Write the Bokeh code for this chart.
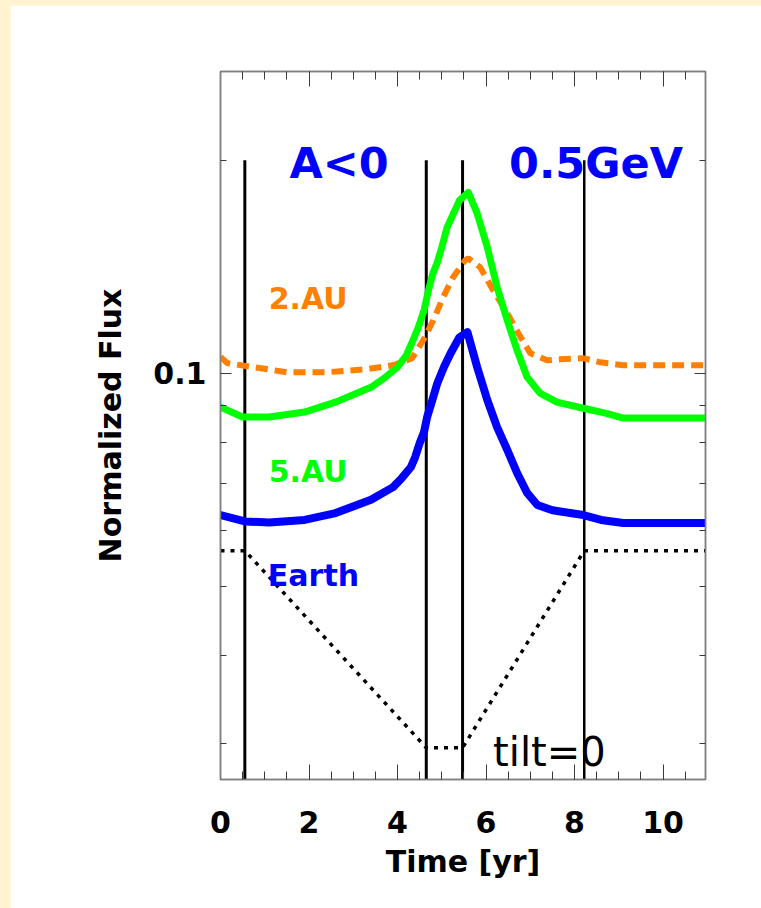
from bokeh.plotting import figure
from bokeh.models import (LogAxis, LinearAxis, FixedTicker, SingleIntervalTicker,
                          PrintfTickFormatter, Label)
from bokeh.layouts import column
from bokeh.embed import file_html
from bokeh.resources import INLINE

# ---- data -------------------------------------------------------------
# 2 AU normalized flux (dashed orange)
au2_t = [0, 0.16, 0.74, 1.5, 2.4, 3.3, 3.9, 4.33, 4.58, 4.81, 5.03, 5.26, 5.53,
         5.6, 5.87, 6.16, 6.48, 6.73, 7.0, 7.38, 7.67, 8.19, 8.58, 9.1, 10.96]
au2_f = [0.1055, 0.1034, 0.1021, 0.1004, 0.1004, 0.1014, 0.1027, 0.1051, 0.1114,
         0.1189, 0.1281, 0.1369, 0.1445, 0.1454, 0.1412, 0.1311, 0.1216, 0.1140,
         0.1068, 0.1044, 0.1047, 0.1051, 0.1037, 0.1027, 0.1027]

# 5 AU normalized flux (green)
au5_t = [0, 0.5, 1.1, 1.9, 2.6, 3.4, 3.7, 4.0, 4.2, 4.35, 4.47, 4.6, 4.7, 4.8,
         4.9, 5.0, 5.12, 5.4, 5.6, 5.8, 6.03, 6.25, 6.48, 6.7, 6.93, 7.22, 7.6,
         8.2, 8.7, 9.1, 10.96]
au5_f = [0.0896, 0.0868, 0.0868, 0.0882, 0.0911, 0.0956, 0.0985, 0.1021, 0.1061,
         0.1114, 0.1162, 0.1228, 0.1311, 0.1385, 0.1435, 0.1507, 0.1608, 0.1756,
         0.1802, 0.1683, 0.1507, 0.1324, 0.1189, 0.1079, 0.0988, 0.0938, 0.0911,
         0.0893, 0.0879, 0.0865, 0.0865]

# Earth normalized flux (blue)
earth_t = [0, 0.55, 1.1, 1.9, 2.6, 3.4, 3.9, 4.1, 4.3, 4.4, 4.5, 4.6, 4.67, 4.8,
           4.9, 5.05, 5.2, 5.3, 5.4, 5.58, 5.8, 6.03, 6.25, 6.48, 6.7, 6.93, 7.16,
           7.5, 8.2, 8.6, 9.1, 10.96]
earth_f = [0.0631, 0.0618, 0.0616, 0.0621, 0.0635, 0.0663, 0.0691, 0.0712, 0.0737,
           0.0762, 0.0797, 0.0827, 0.0868, 0.0923, 0.0969, 0.1021, 0.1068, 0.1096,
           0.1125, 0.1144, 0.1021, 0.0917, 0.0840, 0.0780, 0.0724, 0.0678, 0.0652,
           0.0641, 0.0631, 0.0621, 0.0615, 0.0615]

# tilt-angle profile (dotted black, arbitrary scale)
tilt_t = [0, 0.55, 4.65, 5.47, 8.22, 10.96]
tilt_f = [0.0562, 0.0562, 0.0296, 0.0296, 0.0562, 0.0562]

# epoch markers
marker_t = [0.55, 4.65, 5.47, 8.22]
marker_top = 0.2

# axes
x_lo, x_hi = 0, 10.96
y_lo, y_hi = 0.0267, 0.267
y_major = [0.1]
y_minor = [0.03, 0.04, 0.05, 0.06, 0.07, 0.08, 0.09, 0.2]

# ---- styling ------------------------------------------------------------
FONT = "DejaVu Sans"
GREY = "#7f7f7f"
TICK = "#3a3a3a"
BLUE = "#0000ff"
GREEN = "#00ff00"
ORANGE = "#ff7f00"

p = figure(width=751, height=903, x_range=(x_lo, x_hi), y_range=(y_lo, y_hi),
           y_axis_type="log", output_backend="svg", toolbar_location=None,
           min_border_left=210, min_border_right=56, min_border_top=66,
           min_border_bottom=129, background_fill_color="white",
           border_fill_color="white")
p.grid.visible = False
p.outline_line_color = GREY
p.outline_line_width = 1.5

xt = SingleIntervalTicker(interval=2, num_minor_ticks=4)
yt = FixedTicker(ticks=y_major, minor_ticks=y_minor)


def style_axis(ax, ticker, major_len, minor_len, labels=True):
    ax.ticker = ticker
    ax.axis_line_color = GREY
    ax.axis_line_width = 1.5
    ax.major_tick_in = major_len
    ax.major_tick_out = 0
    ax.minor_tick_in = minor_len
    ax.minor_tick_out = 0
    ax.major_tick_line_color = TICK
    ax.minor_tick_line_color = TICK
    ax.major_tick_line_width = 1
    ax.minor_tick_line_width = 1
    if not labels:
        # tick marks only, no numbers on the mirrored sides
        ax.major_label_text_color = None
        ax.major_label_standoff = 0


xa = p.xaxis[0]
style_axis(xa, xt, 15, 8)
xa.axis_label = "Time [yr]"
xa.major_label_text_font = FONT
xa.major_label_text_font_style = "bold"
xa.major_label_text_font_size = "30px"
xa.major_label_text_color = "black"
xa.major_label_standoff = 31
xa.axis_label_text_font = FONT
xa.axis_label_text_font_style = "bold"
xa.axis_label_text_font_size = "30px"
xa.axis_label_text_color = "black"
xa.axis_label_standoff = 8

ya = p.yaxis[0]
style_axis(ya, yt, 11, 6)
ya.formatter = PrintfTickFormatter(format="%.1f")
ya.axis_label = "Normalized Flux"
ya.major_label_text_font = FONT
ya.major_label_text_font_style = "bold"
ya.major_label_text_font_size = "30px"
ya.major_label_text_color = "black"
ya.major_label_standoff = 14
ya.axis_label_text_font = FONT
ya.axis_label_text_font_style = "bold"
ya.axis_label_text_font_size = "30px"
ya.axis_label_text_color = "black"
ya.axis_label_standoff = 22

top_ax = LinearAxis()
style_axis(top_ax, xt, 15, 8, labels=False)
p.add_layout(top_ax, "above")

right_ax = LogAxis()
style_axis(right_ax, yt, 11, 6, labels=False)
p.add_layout(right_ax, "right")

# ---- marks --------------------------------------------------------------
for i, t in enumerate(marker_t):
    p.segment(x0=[t], y0=[marker_top], x1=[t], y1=[y_lo], line_color="black",
              line_width=2.5 if i == len(marker_t) - 1 else 3)

p.line(tilt_t, tilt_f, line_color="black", line_width=3.5, line_dash="4 6")
p.line(au2_t, au2_f, line_color=ORANGE, line_width=6, line_dash="12 7")
p.line(au5_t, au5_f, line_color=GREEN, line_width=7, line_join="round",
       line_cap="round")
p.line(earth_t, earth_f, line_color=BLUE, line_width=8, line_join="round",
       line_cap="round")


def label(x, y, text, color, size, bold=True):
    p.add_layout(Label(x=x, y=y, text=text, text_color=color, text_font=FONT,
                       text_font_size=size,
                       text_font_style="bold" if bold else "normal",
                       text_baseline="alphabetic", text_align="left"))


label(1.56, 0.198, "A<0", BLUE, "43px")
label(6.52, 0.198, "0.5GeV", BLUE, "43px")
label(1.09, 0.1277, "2.AU", ORANGE, "30px")
label(1.09, 0.0728, "5.AU", GREEN, "30px")
label(1.07, 0.0519, "Earth", BLUE, "30px")
label(6.16, 0.0292, "tilt=0", "black", "40px", bold=False)

page = column(p, styles={"background-color": "#fff3d0",
                         "padding-left": "10px", "padding-top": "5px"})

open("out.html", "w").write(file_html(page, INLINE))
